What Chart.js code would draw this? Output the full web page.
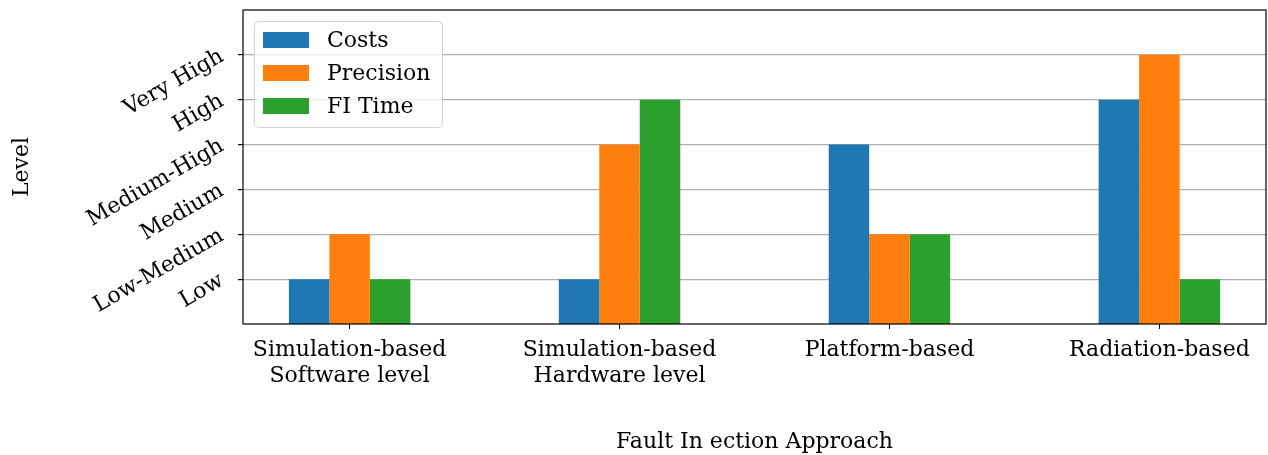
<!DOCTYPE html>
<html>
<head>
<meta charset="utf-8">
<script src="https://cdn.jsdelivr.net/npm/chart.js@4/dist/chart.umd.min.js"></script>
<style>
  html, body { margin: 0; padding: 0; background: #fff; }
  #wrap { width: 1268px; height: 455px; }
</style>
</head>
<body>
<div id="wrap"><canvas id="chart" width="1268" height="455"></canvas></div>
<script>
// dados
const approaches = [
  ['Simulation-based', 'Software level'],
  ['Simulation-based', 'Hardware level'],
  ['Platform-based'],
  ['Radiation-based']
];
const levels = ['Low', 'Low-Medium', 'Medium', 'Medium-High', 'High', 'Very High'];
const costs = [1, 1, 4, 5];
const precision = [2, 4, 2, 6];
const fiTime = [1, 5, 2, 1];

const FONT = 'DejaVu Serif';
const FS = 22;

function toPoints(arr) {
  return arr.map((v, i) => ({ x: i, y: v }));
}

// moldura em volta da área do gráfico + legenda dentro da área
const framePlugin = {
  id: 'frame',
  afterDraw(chart) {
    const { ctx, chartArea: a } = chart;
    ctx.save();
    ctx.strokeStyle = '#000';
    ctx.lineWidth = 1.2;
    ctx.strokeRect(a.left, a.top, a.right - a.left, a.bottom - a.top);

    // legenda
    const x0 = 254, y0 = 21, w = 188, h = 106;
    ctx.beginPath();
    ctx.roundRect(x0 + 0.5, y0 + 0.5, w, h, 4);
    ctx.fillStyle = 'rgba(255,255,255,0.8)';
    ctx.fill();
    ctx.strokeStyle = '#d0d0d0';
    ctx.lineWidth = 1;
    ctx.stroke();
    ctx.font = FS + 'px "' + FONT + '"';
    ctx.textBaseline = 'middle';
    ctx.textAlign = 'left';
    chart.data.datasets.forEach((ds, i) => {
      const cy = 40 + i * 33;
      ctx.fillStyle = ds.backgroundColor;
      ctx.fillRect(263, cy - 8, 46, 16);
      ctx.fillStyle = '#000';
      ctx.fillText(ds.label, 327, cy + 1);
    });
    ctx.restore();
  }
};

const ctx = document.getElementById('chart').getContext('2d');
const chart = new Chart(ctx, {
  type: 'bar',
  data: {
    datasets: [
      { label: 'Costs', data: toPoints(costs), backgroundColor: '#1f77b4' },
      { label: 'Precision', data: toPoints(precision), backgroundColor: '#ff7f0e' },
      { label: 'FI Time', data: toPoints(fiTime), backgroundColor: '#2ca02c' }
    ]
  },
  options: {
    responsive: false,
    animation: false,
    layout: { padding: { top: 10, right: 2, left: 0, bottom: 0 } },
    datasets: {
      bar: { categoryPercentage: 0.45, barPercentage: 1.0 }
    },
    plugins: {
      legend: { display: false },
      tooltip: { enabled: false }
    },
    scales: {
      x: {
        type: 'linear',
        offset: false,
        min: -0.395,
        max: 3.395,
        afterBuildTicks: s => { s.ticks = approaches.map((_, i) => ({ value: i })); },
        afterFit: s => { s.height = 131; s.paddingLeft = 0; s.paddingRight = 0; },
        grid: { offset: false, drawOnChartArea: false, tickLength: 5, tickColor: '#000', color: '#000' },
        border: { display: false },
        ticks: {
          color: '#000',
          padding: 8,
          maxRotation: 0,
          autoSkip: false,
          font: { family: FONT, size: FS, lineHeight: 1.2 },
          callback: v => approaches[v]
        },
        title: {
          display: true,
          text: 'Fault In ection Approach',
          color: '#000',
          font: { family: FONT, size: FS, lineHeight: 1.2 },
          padding: { top: 0, bottom: 0 }
        }
      },
      y: {
        min: 0,
        max: 7,
        afterBuildTicks: s => { s.ticks = levels.map((_, i) => ({ value: i + 1 })); },
        afterFit: s => { s.width = 243; s.paddingTop = 0; s.paddingBottom = 0; },
        grid: { color: '#b0b0b0', lineWidth: 1.2, tickLength: 5, tickColor: '#000' },
        border: { display: false },
        ticks: {
          color: '#000',
          padding: 16,
          minRotation: 30,
          maxRotation: 30,
          autoSkip: false,
          font: { family: FONT, size: FS },
          callback: v => levels[v - 1]
        },
        title: {
          display: true,
          text: 'Level',
          color: '#000',
          font: { family: FONT, size: FS, lineHeight: 1.2 },
          padding: { top: 9 }
        }
      }
    }
  },
  plugins: [framePlugin]
});
</script>
</body>
</html>
